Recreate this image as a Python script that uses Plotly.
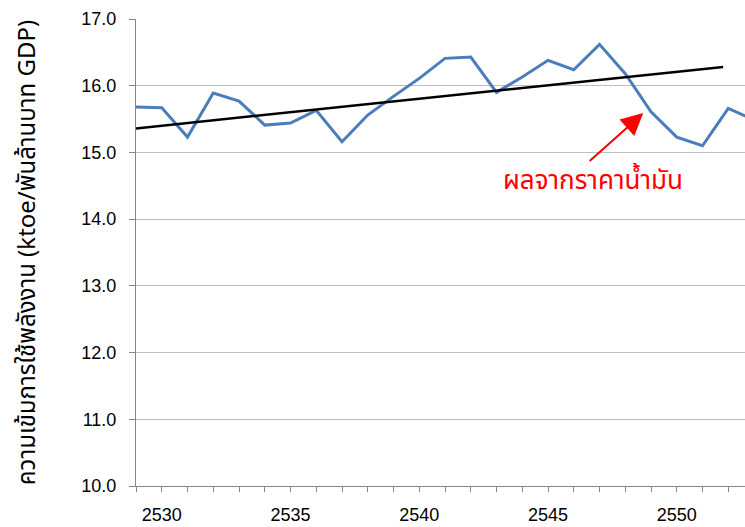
import plotly.graph_objects as go

years = list(range(2529, 2554))
intensity = [15.68, 15.67, 15.23, 15.89, 15.77, 15.41, 15.44, 15.63, 15.16, 15.56,
             15.84, 16.11, 16.41, 16.43, 15.90, 16.13, 16.38, 16.24, 16.62, 16.18,
             15.61, 15.23, 15.10, 15.66, 15.49]
trend_x = [2529, 2551.8]
trend_y = [15.36, 16.28]

y_title = "ความเข้มการใช้พลังงาน (ktoe/พันล้านบาท GDP)"
note_text = "ผลจากราคาน้ำมัน"
arrow_head = (2548.70, 15.59)
arrow_tail = (2546.56, 14.85)
note_pos = (2546.75, 14.57)

thai_font = "Tahoma, 'Noto Sans Thai', 'Leelawadee UI', Arial, sans-serif"
num_font = "Arial, 'Liberation Sans', sans-serif"

fig = go.Figure()
fig.add_trace(go.Scatter(x=years, y=intensity, mode="lines",
                         line=dict(color="#4A7EBB", width=3), showlegend=False))
fig.add_trace(go.Scatter(x=trend_x, y=trend_y, mode="lines",
                         line=dict(color="#000000", width=2.5), showlegend=False))

fig.add_annotation(x=arrow_head[0], y=arrow_head[1], ax=arrow_tail[0], ay=arrow_tail[1],
                   xref="x", yref="y", axref="x", ayref="y", text="",
                   showarrow=True, arrowhead=2, arrowsize=2.2, arrowwidth=2,
                   arrowcolor="#FF0000")
fig.add_annotation(x=note_pos[0], y=note_pos[1], xref="x", yref="y", text=note_text,
                   showarrow=False, font=dict(family=thai_font, size=26, color="#FF0000"))

fig.update_layout(
    width=745, height=527,
    margin=dict(l=136, r=0, t=19, b=41, autoexpand=False),
    plot_bgcolor="white", paper_bgcolor="white",
    font=dict(family=num_font, size=18, color="#000000"),
    hovermode=False,
)
fig.update_xaxes(range=[2529, 2552.65], tick0=2530, dtick=5, showgrid=False,
                 automargin=False,
                 showline=True, linecolor="#868686", linewidth=1,
                 ticks="outside", ticklen=5, tickcolor="#868686",
                 minor=dict(dtick=1, tick0=2529, ticks="outside", ticklen=5,
                            tickcolor="#868686", showgrid=False),
                 ticklabelstandoff=7, tickfont=dict(family=num_font, size=18))
fig.update_yaxes(range=[10, 17], dtick=1, tickformat=".1f", showgrid=True,
                 automargin=False,
                 gridcolor="#BFBFBF", gridwidth=1, zeroline=False,
                 showline=True, linecolor="#868686", linewidth=1,
                 ticks="outside", ticklen=6, tickcolor="#868686",
                 ticklabelstandoff=9, tickfont=dict(family=num_font, size=18),
                 title=dict(text=y_title, font=dict(family=thai_font, size=24), standoff=38))

fig.write_html("out.html", config={"displayModeBar": False},
               post_script="document.body.style.margin='0';document.body.style.padding='0';")
